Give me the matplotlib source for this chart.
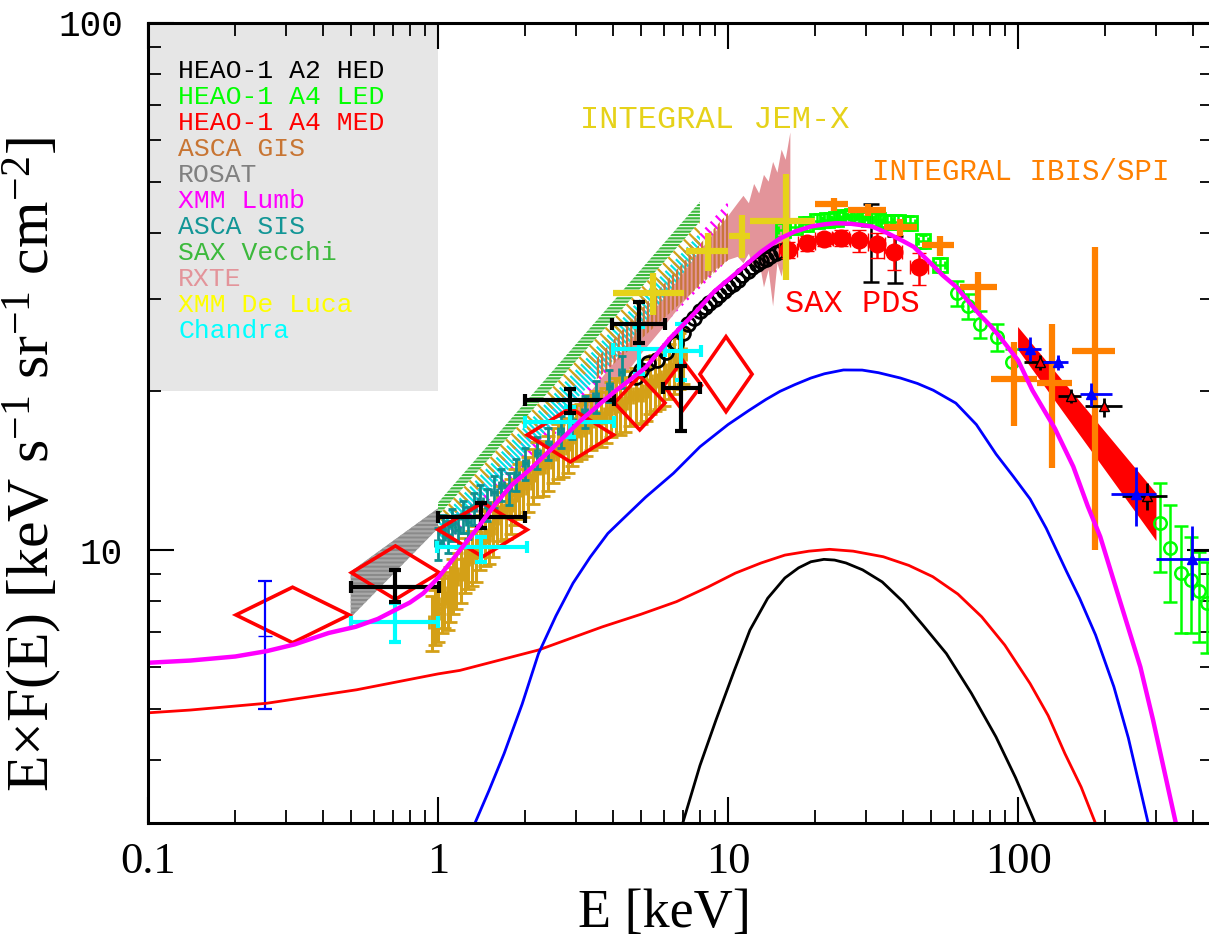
import numpy as np
import matplotlib
matplotlib.use("Agg")
import matplotlib.pyplot as plt
from matplotlib.ticker import NullFormatter, FixedLocator, LogLocator
from matplotlib.patches import Rectangle

plt.rcParams['hatch.linewidth'] = 1.6
plt.rcParams['mathtext.fontset'] = 'custom'
plt.rcParams['mathtext.rm'] = 'Liberation Serif'
plt.rcParams['mathtext.it'] = 'Liberation Serif:italic'

# ---------------- data ----------------
# model curves
mag_E = [0.1, 0.14, 0.2, 0.257, 0.32, 0.42, 0.52, 0.62, 0.71, 0.8, 0.89, 1.0, 1.1, 1.2, 1.35, 1.59, 1.8,
         2.07, 2.57, 3.1, 3.6, 4.12, 4.58, 5.2, 6.3, 7.6, 9.0, 11.0, 13.0, 15.1, 17.0, 19.3, 21.5, 23.6,
         26.5, 31.4, 35.2, 40.0, 43.7, 50.0, 55.0, 61.1, 66.8, 73.6, 80.0, 86.4, 100, 112, 134, 155, 174,
         192, 224, 264, 292, 350]
mag_F = [6.11, 6.17, 6.28, 6.43, 6.62, 6.96, 7.15, 7.4, 7.69, 7.95, 8.28, 8.85, 9.45, 10.05, 10.9, 12.3, 13.3,
         14.2, 15.9, 17.6, 18.9, 20.1, 21.0, 22.2, 25.2, 28.0, 31.0, 34.0, 36.8, 39.0, 40.2, 41.1, 41.5, 41.7,
         41.6, 41.1, 40.0, 38.6, 37.6, 35.0, 33.2, 31.6, 29.8, 28.0, 26.7, 25.4, 22.9, 20.1, 17.0, 14.4, 12.1,
         10.6, 8.04, 6.0, 4.76, 3.03]
blue_E = [1.34, 1.5, 1.69, 1.95, 2.22, 2.55, 2.92, 3.35, 3.85, 4.3, 5.2, 6.48, 8.0, 10.0, 11.8, 13.5, 15.1,
          17.0, 19.3, 21.5, 25.0, 29.0, 33.0, 39.3, 45.0, 51.0, 61.0, 71.8, 84.0, 96.2, 110, 125, 147, 163,
          185, 214, 240, 281]
blue_F = [3.03, 3.5, 4.11, 5.1, 6.36, 7.5, 8.65, 9.7, 10.75, 11.4, 12.6, 13.98, 15.7, 17.3, 18.4, 19.3, 20.0,
          20.6, 21.2, 21.6, 21.96, 21.95, 21.7, 21.2, 20.7, 20.1, 19.0, 17.3, 15.2, 13.8, 12.5, 11.0, 9.1,
          8.1, 6.9, 5.5, 4.4, 3.03]
red_E = [0.1, 0.14, 0.257, 0.524, 1.0, 1.19, 2.22, 3.69, 5.0, 6.64, 8.5, 10.6, 13.0, 15.7, 19.0, 22.4, 27.0,
         34.3, 42.0, 50.8, 62, 74.9, 90, 110, 127, 145, 165, 184]
red_F = [4.91, 4.97, 5.12, 5.43, 5.82, 5.91, 6.46, 7.15, 7.55, 7.98, 8.5, 9.04, 9.45, 9.78, 9.95, 10.03, 9.95,
         9.71, 9.35, 8.9, 8.25, 7.47, 6.6, 5.58, 4.85, 4.11, 3.55, 3.05]
blk_curve_E = [7.0, 8.0, 9.09, 10.5, 11.9, 13.7, 15.7, 17.5, 19.3, 21.4, 23.3, 25.5, 29.1, 34, 40.1, 47,
               56.6, 69, 83.9, 98, 114]
blk_curve_F = [3.05, 3.9, 4.76, 5.9, 7.05, 8.1, 8.85, 9.25, 9.5, 9.6, 9.57, 9.45, 9.17, 8.7, 7.98, 7.2,
               6.36, 5.35, 4.42, 3.7, 3.05]

# hatched bands (E range, upper and lower flux at ends)
rosat_E = [0.5, 1.0];  rosat_hi = [9.1, 12.0];  rosat_lo = [7.45, 11.0]
vecchi_E = [1.0, 8.0]; vecchi_hi = [12.3, 45.8]; vecchi_lo = [11.6, 42.0]
gis_band_E = [1.0, 8.0]; gis_band_hi = [11.6, 42.0]; gis_band_lo = [10.8, 37.0]
chandra_band_E = [1.0, 8.0]; chandra_band_hi = [11.3, 40.0]; chandra_band_lo = [10.3, 34.0]
lumb_E = [1.0, 10.0]; lumb_hi = [10.9, 45.8]; lumb_lo = [9.9, 35.5]
gisv_E = [3.5, 10.0]; gisv_hi = [23.0, 43.6]; gisv_lo = [21.0, 35.5]
rxte_E = [3.0, 4.0, 5.0, 6.0, 7.0, 8.0, 9.0, 10.0, 10.8, 11.3, 11.8, 12.3, 12.8, 13.3, 13.8, 14.3, 14.8,
          15.3, 15.8, 16.4]
rxte_hi = [18.5, 22.5, 26.5, 30.0, 33.5, 37.0, 40.0, 43.0, 45.5, 47.0, 45.5, 49.5, 47.5, 51.5, 50.0, 54.5,
           52.0, 57.5, 55.0, 62.0]
rxte_lo = [16.5, 20.0, 23.5, 26.5, 29.5, 32.0, 34.0, 35.5, 36.0, 35.0, 36.5, 34.0, 35.5, 31.5, 34.0, 29.0,
           35.0, 33.0, 36.5, 38.0]
med_band_E = [100, 300]; med_band_hi = [26.5, 12.8]; med_band_lo = [24.0, 10.4]

# red open diamonds
dia_Elo = [0.201, 0.503, 1.0, 2.03, 4.06, 6.0, 8.0]
dia_Ehi = [0.494, 1.01, 2.03, 4.03, 6.06, 8.1, 12.1]
dia_Flo = [6.67, 8.06, 9.71, 14.7, 16.9, 18.4, 18.3]
dia_Fhi = [8.5, 10.18, 12.3, 18.6, 21.4, 22.9, 25.4]

# black crosses (low energy)
bk_E = [0.711, 1.41, 2.85, 4.92, 6.9]
bk_Elo = [0.503, 1.0, 2.0, 3.99, 5.97]
bk_Ehi = [1.01, 2.0, 4.03, 6.05, 8.0]
bk_F = [8.52, 11.57, 19.3, 26.9, 20.3]
bk_Flo = [7.98, 11.0, 18.2, 24.7, 16.85]
bk_Fhi = [9.17, 12.26, 20.2, 29.6, 22.3]

# Chandra crosses
ch_E = [0.711, 1.41, 2.85, 4.94, 6.9]
ch_Elo = [0.5, 0.99, 2.0, 4.0, 6.05]
ch_Ehi = [1.0, 2.03, 4.05, 6.05, 8.07]
ch_F = [7.31, 10.12, 17.5, 24.1, 23.9]
ch_Flo = [6.7, 9.5, 16.4, 21.6, 21.0]
ch_Fhi = [7.93, 10.6, 18.7, 26.5, 26.9]

# INTEGRAL JEM-X
jx_E = [5.49, 8.5, 11.2, 15.9]
jx_Elo = [4.01, 7.15, 10.1, 11.9]
jx_Ehi = [7.05, 10.0, 11.9, 19.9]
jx_F = [30.7, 37.0, 39.4, 42.1]
jx_Flo = [27.9, 33.9, 35.8, 32.5]
jx_Fhi = [33.5, 39.9, 43.2, 51.7]

# INTEGRAL IBIS/SPI
ib_E = [23.1, 30.4, 39.3, 53.6, 73.0, 97.2, 131, 184]
ib_Elo = [20.0, 25.9, 34.4, 46.5, 62.9, 80.8, 116.5, 154]
ib_Ehi = [25.9, 35.0, 44.7, 60.3, 84.7, 116.5, 154, 216]
ib_F = [45.3, 44.2, 41.0, 37.9, 31.5, 21.1, 20.7, 23.9]
ib_Flo = [43.9, 43.0, 39.5, 36.2, 28.5, 17.2, 14.3, 10.0]
ib_Fhi = [46.6, 45.4, 42.5, 39.4, 33.7, 24.8, 26.8, 37.6]

# SAX PDS
pds_E = [16.1, 18.7, 21.5, 24.5, 28.3, 32.6, 37.2, 45.6]
pds_F = [37.1, 38.2, 38.9, 39.1, 38.8, 38.1, 36.8, 34.5]
pds_Flo = [35.8, 37.0, 37.8, 37.8, 36.8, 35.8, 34.0, 31.8]
pds_Fhi = [38.4, 39.4, 40.0, 40.4, 40.4, 40.0, 39.4, 36.6]

# HEAO-1 A4 LED (squares and circles)
led_E = [15.5, 17.0, 18.6, 20.3, 22.0, 23.5, 25.2, 26.8, 28.7, 30.7, 33.0, 35.2, 38.5, 42.4, 47.1, 53.8]
led_F = [40.5, 41.0, 41.6, 42.1, 42.3, 42.5, 42.8, 43.0, 42.8, 42.5, 42.2, 42.0, 41.9, 41.8, 38.5, 34.8]
ledc_E = [61.4, 67.0, 74.0, 84.5, 95.3, 309, 335, 365, 394, 422, 449]
ledc_F = [30.7, 29.0, 26.8, 25.4, 22.7, 11.23, 10.1, 9.03, 8.77, 8.37, 7.92]
ledc_Flo = [29.0, 27.4, 25.2, 23.9, 21.3, 9.07, 7.98, 6.97, 6.95, 6.69, 6.38]
ledc_Fhi = [32.4, 30.6, 28.4, 26.9, 24.1, 13.4, 12.2, 11.1, 10.6, 9.93, 9.5]

# high-energy blue crosses
bh_E = [110, 137, 178, 255, 399]
bh_Elo = [99.6, 122, 163, 209, 300]
bh_Ehi = [120, 149, 210, 298, 520]
bh_F = [24.1, 22.7, 19.76, 12.8, 9.6]
bh_Flo = [22.8, 22.0, 18.8, 11.1, 8.04]
bh_Fhi = [25.4, 23.4, 20.7, 14.4, 11.1]

# high-energy black crosses with red triangles
hh_E = [119, 152, 198, 278, 480]
hh_Elo = [105, 137, 170, 229, 400]
hh_Ehi = [130, 165, 229, 325, 560]
hh_F = [22.7, 19.6, 18.76, 12.66, 10.0]
hh_Flo = [22.0, 19.0, 17.9, 11.91, 9.5]
hh_Fhi = [23.4, 20.2, 19.4, 13.42, 10.5]

# HEAO-1 A2 HED around the peak
hed_E = [31.0, 37.5]
hed_F = [39.0, 35.5]
hed_Flo = [32.3, 32.1]
hed_Fhi = [45.4, 39.4]
hedc_E = [4.8, 5.0, 5.3, 5.67, 6.12, 6.6, 7.0, 7.3, 7.65, 7.98, 8.3, 8.6, 9.0, 9.3, 9.7, 10.0, 10.4,
          10.8, 11.2, 11.7, 12.1, 12.6, 13.0, 13.5, 14.0, 14.6, 15.2]
hedc_F = [21.3, 22.0, 22.6, 22.95, 23.8, 24.7, 25.8, 26.9, 27.6, 28.4, 28.9, 29.4, 30.0, 30.5, 31.0, 31.6,
          32.0, 32.5, 33.2, 33.9, 34.4, 34.9, 35.3, 35.7, 36.2, 36.6, 37.0]

# blue error bar at 0.25 keV
lo_E = [0.253]; lo_F = [6.88]; lo_Flo = [4.99]; lo_Fhi = [8.75]

# ASCA SIS (teal) and goldenrod points
sis_E = [1.0, 1.04, 1.08, 1.12, 1.17, 1.22, 1.27, 1.33, 1.4, 1.48, 1.56, 1.65, 1.75, 1.86, 2.0, 2.2, 2.4,
         2.65, 2.9, 3.2, 3.5, 3.9, 4.3]
sis_F = [10.3, 10.9, 10.6, 11.2, 10.9, 11.6, 11.3, 12.0, 12.4, 12.2, 12.9, 13.3, 13.1, 13.9, 14.6, 15.3,
         15.9, 16.8, 17.5, 18.3, 19.6, 20.5, 21.8]
gld_E = [0.95, 0.98, 1.0, 1.03, 1.05, 1.08, 1.1, 1.13, 1.15, 1.2, 1.24, 1.27, 1.31, 1.35, 1.4, 1.45, 1.5,
         1.55, 1.6, 1.65, 1.72, 1.78, 1.84, 1.9, 1.97, 2.05, 2.12, 2.2, 2.3, 2.4, 2.5, 2.6, 2.7, 2.8, 2.9,
         3.0, 3.12, 3.25, 3.38, 3.5, 3.65, 3.8, 3.95, 4.1, 4.25, 4.4, 4.6, 4.8, 5.0, 5.2, 5.4, 5.6, 5.8,
         6.0, 6.25, 6.5, 6.75, 7.0]
gld_F = [7.3, 7.5, 7.6, 7.9, 8.1, 8.0, 8.3, 8.6, 8.8, 9.0, 9.4, 9.6, 9.7, 9.9, 10.4, 10.6, 10.7, 11.0,
         11.5, 11.8, 11.9, 12.2, 12.7, 13.0, 13.1, 13.4, 13.9, 14.3, 14.4, 14.7, 15.2, 15.5, 15.6, 15.9,
         16.4, 16.8, 16.9, 17.1, 17.6, 17.9, 17.8, 18.1, 18.6, 18.9, 18.8, 19.0, 19.5, 19.8, 19.7, 20.0,
         20.6, 20.9, 21.0, 21.3, 22.0, 22.5, 23.0, 23.5]

legend_labels = ["HEAO-1 A2 HED", "HEAO-1 A4 LED", "HEAO-1 A4 MED", "ASCA GIS", "ROSAT", "XMM Lumb",
                 "ASCA SIS", "SAX Vecchi", "RXTE", "XMM De Luca", "Chandra"]
legend_colors = ["#000000", "#00ff00", "#ff0000", "#c87533", "#808080", "#ff00ff", "#129696", "#3cb93c",
                 "#e3949a", "#ffff00", "#00ffff"]
xtick_vals = [0.1, 1, 10, 100]
xtick_labels = ["0.1", "1", "10", "100"]
ytick_vals = [10, 100]
ytick_labels = ["10", "100"]

# ---------------- figure ----------------
fig = plt.figure(figsize=(12.09, 9.38), dpi=100)
ax = fig.add_axes([148 / 1209, 1 - 823 / 938, (1213 - 148) / 1209, (823 - 23) / 938])
ax.set_xscale('log')
ax.set_yscale('log')
ax.set_xlim(0.1, 470)
ax.set_ylim(3.034, 100)

# legend grey box
ax.add_patch(Rectangle((0.1, 20), 0.9, 80, facecolor='#e6e6e6', edgecolor='none', zorder=0.5))


def asym(v, lo, hi):
    v = np.asarray(v, float)
    return [v - np.asarray(lo, float), np.asarray(hi, float) - v]


def band(E, hi, lo, color, hatch, z, face='none'):
    ax.fill_between(E, lo, hi, facecolor=face, edgecolor=color, hatch=hatch, linewidth=0, zorder=z)


band(rosat_E, rosat_hi, rosat_lo, '#a8a8a8', '----', 1.0, face='#8a8a8a')
band(vecchi_E, vecchi_hi, vecchi_lo, '#3cb93c', '-----', 1.1)
band(lumb_E, lumb_hi, lumb_lo, '#ff00ff', '\\\\\\', 1.2)
band(chandra_band_E, chandra_band_hi, chandra_band_lo, '#00e5e5', '\\\\\\\\\\\\', 1.3)
band(gis_band_E, gis_band_hi, gis_band_lo, '#d4a017', '\\\\\\', 1.4)
ax.fill_between(rxte_E, rxte_lo, rxte_hi, facecolor='#e3949a', edgecolor='none', linewidth=0, zorder=1.5)
band(gisv_E, gisv_hi, gisv_lo, '#c8763a', '||||', 1.6)
ax.fill_between(med_band_E, med_band_lo, med_band_hi, facecolor='#ff0000', edgecolor='none', zorder=1.7)

# goldenrod and teal error bars
gF = np.array(gld_F); gE = np.array(gld_E)
ax.errorbar(gld_E, gld_F, yerr=[gF * 0.12, gF * 0.12], xerr=[gE * 0.02, gE * 0.02], fmt='none',
            ecolor='#d4a017', elinewidth=2.2, capsize=5, capthick=2.0, zorder=2.0)
sF = np.array(sis_F); sE = np.array(sis_E)
ax.errorbar(sis_E, sis_F, yerr=[sF * 0.07, sF * 0.07], xerr=[sE * 0.02, sE * 0.02], fmt='none',
            ecolor='#0f9090', elinewidth=2.0, capsize=3, capthick=2.0, zorder=2.1)

# black open circles (HED)
ax.plot(hedc_E, hedc_F, 'o', mfc='none', mec='black', ms=10, mew=2.0, zorder=2.2)

# red diamonds
for elo, ehi, flo, fhi in zip(dia_Elo, dia_Ehi, dia_Flo, dia_Fhi):
    ec = np.sqrt(elo * ehi)
    fc = np.sqrt(flo * fhi)
    ax.fill([elo, ec, ehi, ec, elo], [fc, fhi, fc, flo, fc], facecolor='none', edgecolor='#ff0000',
            linewidth=2.6, zorder=2.5, joinstyle='miter')

# LED lime points
lE = np.array(led_E); lF = np.array(led_F)
ax.errorbar(led_E, led_F, yerr=[lF * 0.03, lF * 0.03], xerr=[lE * 0.04, lE * 0.04], fmt='s',
            mfc='none', mec='#00ff00', ms=10, mew=2.0, ecolor='#00ff00', elinewidth=1.8, capsize=3,
            zorder=2.6)
ax.errorbar(ledc_E, ledc_F, yerr=asym(ledc_F, ledc_Flo, ledc_Fhi), fmt='o', mfc='none', mec='#00ff00',
            ms=9, mew=1.8, ecolor='#00ff00', elinewidth=1.8, capsize=5, capthick=1.8, zorder=2.6)

# SAX PDS
pE = np.array(pds_E)
ax.errorbar(pds_E, pds_F, yerr=asym(pds_F, pds_Flo, pds_Fhi), xerr=[pE * 0.07, pE * 0.07], fmt='o',
            color='#ff0000', ms=12, elinewidth=1.8, capsize=5, zorder=2.7)
ax.errorbar(hed_E, hed_F, yerr=asym(hed_F, hed_Flo, hed_Fhi), fmt='none', ecolor='black',
            elinewidth=1.8, capsize=6, capthick=1.8, zorder=2.65)

# crosses
ax.errorbar(ch_E, ch_F, xerr=asym(ch_E, ch_Elo, ch_Ehi), yerr=asym(ch_F, ch_Flo, ch_Fhi), fmt='none',
            ecolor='#00ffff', elinewidth=3, capsize=4, capthick=3, zorder=3.0)
ax.errorbar(bk_E, bk_F, xerr=asym(bk_E, bk_Elo, bk_Ehi), yerr=asym(bk_F, bk_Flo, bk_Fhi), fmt='none',
            ecolor='black', elinewidth=3, capsize=4, capthick=3, zorder=3.1)
ax.errorbar(jx_E, jx_F, xerr=asym(jx_E, jx_Elo, jx_Ehi), yerr=asym(jx_F, jx_Flo, jx_Fhi), fmt='none',
            ecolor='#e6d21a', elinewidth=4.5, zorder=3.2)
ax.errorbar(ib_E, ib_F, xerr=asym(ib_E, ib_Elo, ib_Ehi), yerr=asym(ib_F, ib_Flo, ib_Fhi), fmt='none',
            ecolor='#ff8000', elinewidth=4.5, zorder=3.3)
ax.errorbar(hh_E, hh_F, xerr=asym(hh_E, hh_Elo, hh_Ehi), yerr=asym(hh_F, hh_Flo, hh_Fhi), fmt='^',
            mfc='#ff0000', mec='black', ms=7, ecolor='black', elinewidth=2, zorder=3.4)
ax.errorbar(bh_E, bh_F, xerr=asym(bh_E, bh_Elo, bh_Ehi), yerr=asym(bh_F, bh_Flo, bh_Fhi), fmt='^',
            color='#0000ff', ms=7, elinewidth=2, zorder=3.5)
ax.errorbar(lo_E, lo_F, yerr=asym(lo_F, lo_Flo, lo_Fhi), fmt='_', color='#0000ff', ms=10,
            elinewidth=1.6, capsize=5, capthick=1.6, zorder=3.5)

# model curves
ax.plot(red_E, red_F, color='#ff0000', lw=2.0, zorder=4, solid_joinstyle='round')
ax.plot(blk_curve_E, blk_curve_F, color='black', lw=2.0, zorder=4, solid_joinstyle='round')
ax.plot(blue_E, blue_F, color='#0000ff', lw=2.0, zorder=4, solid_joinstyle='round')
ax.plot(mag_E, mag_F, color='#ff00ff', lw=3.2, zorder=5, solid_joinstyle='round')

# texts
mono = 'Liberation Mono'
for i, (lab, col) in enumerate(zip(legend_labels, legend_colors)):
    ax.text(0.0283, 0.940 - i * 0.03246, lab, transform=ax.transAxes, color=col, fontsize=19,
            family=mono, va='center', ha='left', zorder=6)
ax.text((715 - 148) / 1065, (823 - 120) / 800, "INTEGRAL JEM-X", transform=ax.transAxes,
        color='#e6d21a', fontsize=23, family=mono, ha='center', va='center', zorder=6)
ax.text((1021 - 148) / 1065, (823 - 172) / 800, "INTEGRAL IBIS/SPI", transform=ax.transAxes,
        color='#ff8000', fontsize=21, family=mono, ha='center', va='center', zorder=6)
ax.text((852 - 148) / 1065, (823 - 304) / 800, "SAX PDS", transform=ax.transAxes,
        color='#ff0000', fontsize=23, family=mono, ha='center', va='center', zorder=6)

# axes styling
ax.xaxis.set_major_locator(FixedLocator(xtick_vals))
ax.set_xticklabels(xtick_labels)
ax.yaxis.set_major_locator(FixedLocator(ytick_vals))
ax.set_yticklabels(ytick_labels)
ax.xaxis.set_minor_locator(LogLocator(base=10, subs=np.arange(2, 10)))
ax.yaxis.set_minor_locator(LogLocator(base=10, subs=np.arange(2, 10)))
ax.xaxis.set_minor_formatter(NullFormatter())
ax.yaxis.set_minor_formatter(NullFormatter())
ax.tick_params(which='both', direction='in', top=True, right=True, color='black')
ax.tick_params(which='major', length=19, width=1.5)
ax.tick_params(which='minor', length=9.5, width=1.3)
ax.tick_params(axis='x', which='major', pad=14, labelsize=32)
ax.tick_params(axis='y', which='major', pad=18, labelsize=26)
for lab in ax.get_xticklabels():
    lab.set_family('Liberation Serif')
for lab in ax.get_yticklabels():
    lab.set_family(mono)
for s in ax.spines.values():
    s.set_linewidth(2.2)
    s.set_zorder(7)

ax.set_xlabel("E [keV]", fontsize=39, family='Liberation Serif')
ax.xaxis.set_label_coords((664 - 148) / 1065, -(888 - 823) / 800)
ax.set_ylabel(r"E$\times$F(E) [keV s$^{-1}$ sr$^{-1}$ cm$^{-2}$]", fontsize=43, family='Liberation Serif')
ax.yaxis.set_label_coords(-(148 - 64) / 1065, (823 - 465) / 800)

fig.savefig("out.png", dpi=100)
